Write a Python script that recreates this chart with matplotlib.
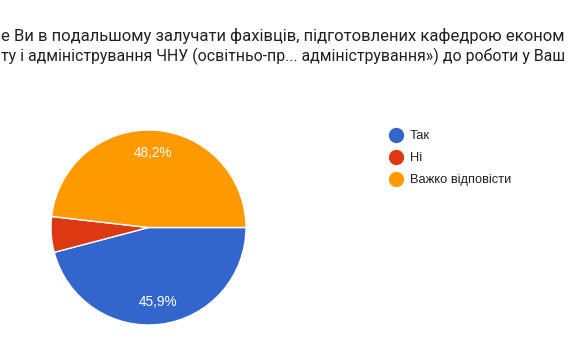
import matplotlib
matplotlib.use("Agg")
import matplotlib.pyplot as plt
from matplotlib.lines import Line2D
import numpy as np

# Data
categories = ["Так", "Ні", "Важко відповісти"]
values = [45.9, 5.9, 48.2]
colors = ["#3366CC", "#DC3912", "#FF9900"]
title_lines = [
    "е Ви в подальшому залучати фахівців, підготовлених кафедрою економ",
    "ту і адміністрування ЧНУ (освітньо-пр... адміністрування») до роботи у Ваш",
]

W, H = 570, 364
fig = plt.figure(figsize=(W / 100, H / 100), dpi=100)
fig.patch.set_facecolor("white")

# Title: fit each visible line to the figure width
tfam = ["Roboto", "DejaVu Sans"]
for line, ypx in zip(title_lines, [36, 56]):
    t = fig.text(1 / W, 1 - ypx / H, line, fontsize=11.5, family=tfam,
                 color="#202124", ha="left", va="center")
    fig.canvas.draw()
    w = t.get_window_extent().width
    t.set_fontsize(11.5 * 566 / w)

# Pie
cx, cy, r = 148.5, 227.5, 97.5
ax = fig.add_axes([(cx - r) / W, 1 - (cy + r) / H, 2 * r / W, 2 * r / H])
wedges, texts = ax.pie(
    values, colors=colors, startangle=0, counterclock=False,
    labels=None, wedgeprops=dict(edgecolor="white", linewidth=1.0),
)
total = sum(values)
theta = 0.0
for w, v in zip(wedges, values):
    frac = v / total
    mid = -(theta + frac / 2) * 2 * np.pi
    if frac > 0.1:
        ax.text(0.77 * np.cos(mid), 0.77 * np.sin(mid), f"{v:.1f}".replace(".", ",") + "%",
                ha="center", va="center", color="white", fontsize=9.8,
                family=["Liberation Sans", "DejaVu Sans"])
    theta += frac
ax.set_xlim(-1, 1)
ax.set_ylim(-1, 1)
ax.set_aspect("auto")
ax.axis("off")

# Legend
handles = [Line2D([], [], marker="o", linestyle="", markersize=10, markerfacecolor=c,
                  markeredgecolor=c) for c in colors]
fig.legend(handles, categories, loc="upper left", bbox_to_anchor=(390 / W, 1 - 130 / H),
           frameon=False, prop=dict(family=["Liberation Sans", "DejaVu Sans"], size=9.3),
           labelcolor="#222222", handletextpad=0.55, labelspacing=0.78,
           handlelength=1.0, borderaxespad=0, borderpad=0)

fig.savefig("out.png", dpi=100, facecolor="white")
